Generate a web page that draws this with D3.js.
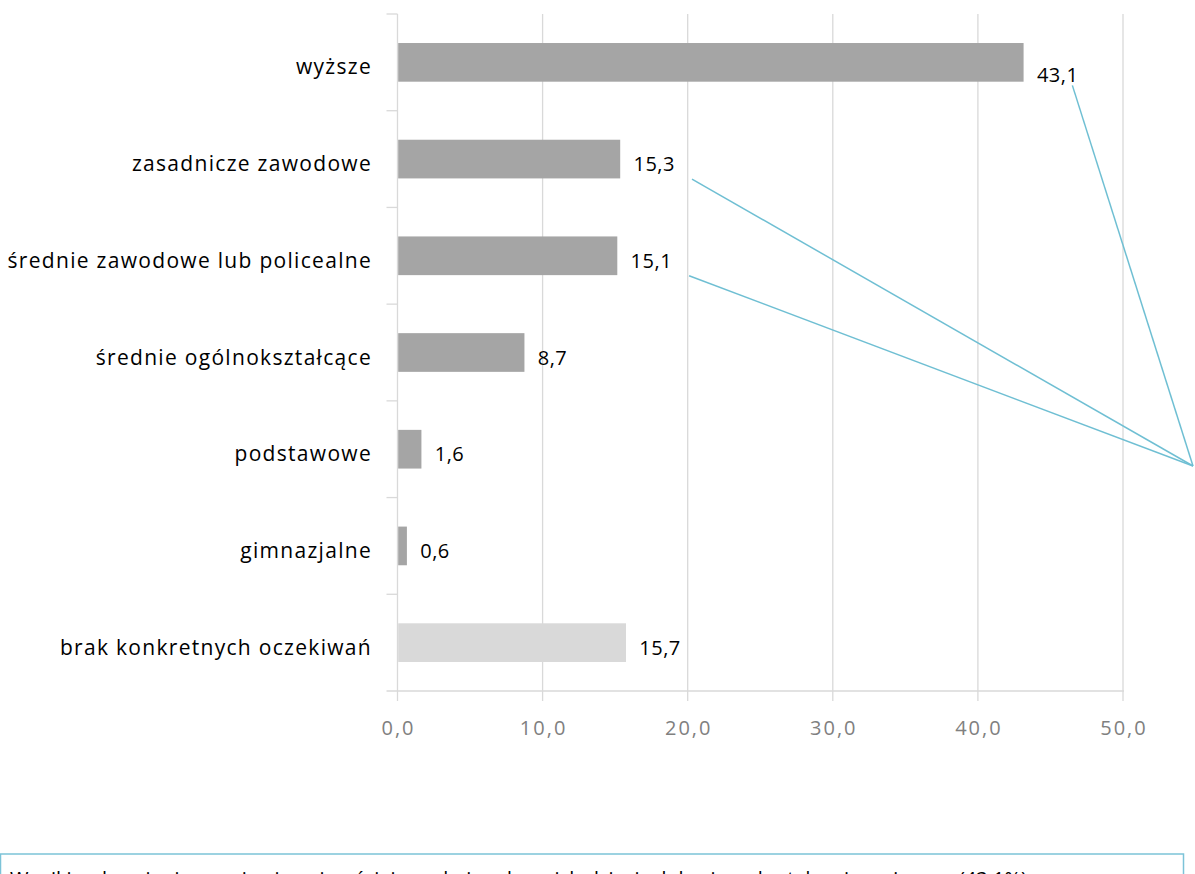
<!DOCTYPE html>
<html><head><meta charset="utf-8">
<script src="https://cdn.jsdelivr.net/npm/d3@7"></script>
<style>
html,body{margin:0;padding:0;background:#fff;overflow:hidden;}
svg{display:block;font-family:"Open Sans",Lato,sans-serif;}
</style></head>
<body>
<svg id="c" width="1195" height="874"></svg>
<script>
const categories = ["wyższe","zasadnicze zawodowe","średnie zawodowe lub policealne","średnie ogólnokształcące","podstawowe","gimnazjalne","brak konkretnych oczekiwań"];
const values = [43.1,15.3,15.1,8.7,1.6,0.6,15.7];
const barColors = ["#a5a5a5","#a5a5a5","#a5a5a5","#a5a5a5","#a5a5a5","#a5a5a5","#d9d9d9"];
const xTicks = [0,10,20,30,40,50];
const calloutIdx = [0,1,2];
const noteText = "Wyniki wskazują, że uczniowie najczęściej oczekują od swoich dzieci zdobycia wykształcenia wyższego (43,1%)";

(function(){
const svg = d3.select("#c");
const L = 397.5, R = 1123, T = 14, B = 691;
const x = d3.scaleLinear().domain([0,50]).range([L,R]);
const y = d3.scaleBand().domain(categories).range([T,B]).paddingInner(0.6).paddingOuter(0.3);
const yb = d3.scaleBand().domain(categories).range([T,B]);
const fmt = v => d3.format(".1f")(v).replace(".",",");
const gc = "#d9d9d9";

svg.append("g").selectAll("line").data(xTicks.filter(d=>d>0)).join("line")
  .attr("x1",d=>x(d)).attr("x2",d=>x(d)).attr("y1",T).attr("y2",B+10)
  .attr("stroke",gc).attr("stroke-width",1.3);
svg.append("line").attr("x1",L).attr("x2",L).attr("y1",B).attr("y2",B+10).attr("stroke",gc).attr("stroke-width",1.3);
svg.append("line").attr("x1",L-11).attr("x2",R+1).attr("y1",B).attr("y2",B).attr("stroke",gc).attr("stroke-width",1.3);
svg.append("line").attr("x1",L).attr("x2",L).attr("y1",T).attr("y2",B).attr("stroke",gc).attr("stroke-width",1.3);
svg.append("g").selectAll("line").data(categories.map(c=>yb(c))).join("line")
  .attr("x1",L-11).attr("x2",L).attr("y1",d=>d).attr("y2",d=>d)
  .attr("stroke",gc).attr("stroke-width",1.3);

svg.append("g").selectAll("text").data(xTicks).join("text")
  .attr("x",d=>x(d)+1).attr("y",735).attr("text-anchor","middle")
  .attr("font-size",20).attr("letter-spacing",2).attr("fill","#808080").text(d=>fmt(d));

svg.append("g").selectAll("rect").data(values).join("rect")
  .attr("x",L+0.7).attr("y",(d,i)=>y(categories[i]))
  .attr("width",d=>x(d)-L).attr("height",y.bandwidth())
  .attr("fill",(d,i)=>barColors[i]);

svg.append("g").selectAll("text").data(categories).join("text")
  .attr("x",372).attr("y",d=>y(d)+y.bandwidth()/2+12).attr("text-anchor","end")
  .attr("font-size",21).attr("letter-spacing",1.3).attr("fill","#000").text(d=>d);

const labels = svg.append("g").selectAll("text").data(values).join("text")
  .attr("x",d=>x(d)+14).attr("y",(d,i)=>y(categories[i])+y.bandwidth()/2+(i===0?20:12))
  .attr("font-size",20).attr("letter-spacing",0.5).attr("fill","#000").text(d=>fmt(d));

const target = [1193,466];
const nodes = labels.nodes();
calloutIdx.forEach(i=>{
  const bb = nodes[i].getBBox();
  const sx = i===0 ? bb.x+bb.width-6 : bb.x+bb.width+17;
  const sy = bb.y+bb.height+(i===0?-3:2);
  svg.append("line").attr("x1",sx).attr("y1",sy).attr("x2",target[0]).attr("y2",target[1])
    .attr("stroke","#6fbfd3").attr("stroke-width",1.5);
});

svg.append("rect").attr("x",0.5).attr("y",854).attr("width",1183).attr("height",60)
  .attr("fill","#fff").attr("stroke","#7cc3d8").attr("stroke-width",1.5);
svg.append("text").attr("x",10).attr("y",886).attr("font-size",20)
  .attr("textLength",1017).attr("lengthAdjust","spacing").attr("fill","#000").text(noteText);
})();
</script>
</body></html>
